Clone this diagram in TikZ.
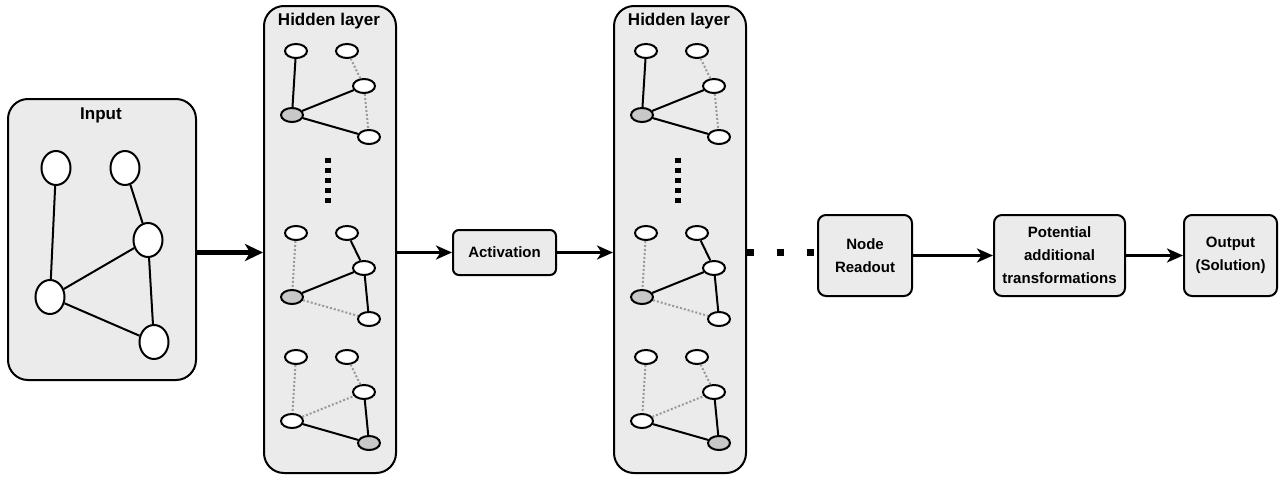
\documentclass[tikz,border=0pt]{standalone}
\usepackage{fontspec}
\setmainfont{Liberation Sans}
\usetikzlibrary{shapes.geometric,arrows.meta,calc}

\definecolor{boxfill}{HTML}{EBEBEB}
\definecolor{nodegrey}{HTML}{C8C8C8}
\definecolor{weakedge}{HTML}{9A9A9A}

\tikzset{
  panel/.style={draw, line width=2pt, fill=boxfill, rounded corners=20pt, inner sep=0pt},
  stepbox/.style={draw, line width=2pt, fill=boxfill, rounded corners=8pt, inner sep=0pt,
    align=center, font=\fontsize{15}{23}\selectfont\bfseries},
  paneltitle/.style={font=\fontsize{17}{20}\selectfont\bfseries, inner sep=0pt},
  bignode/.style={draw, line width=2pt, fill=white, ellipse, inner sep=0pt,
    minimum width=29pt, minimum height=34pt},
  minnode/.style={draw, line width=2pt, fill=white, ellipse, inner sep=0pt,
    minimum width=22pt, minimum height=14pt},
  strong/.style={line width=2pt, black},
  weak/.style={line width=2pt, weakedge, dash pattern=on 2pt off 2pt},
  flow/.style={line width=3pt, -{Stealth[length=16pt, width=14pt, inset=4.5pt]}},
  bigflow/.style={line width=4.5pt, -{Stealth[length=18pt, width=17pt, inset=5pt]}},
}

% One small graph of a hidden layer:
% #1 name prefix, #2 origin, #3 fill of d, #4 fill of e,
% #5 a-d, #6 d-c, #7 d-e, #8 b-c, #9 c-e
\newcommand\minigraph[9]{%
  \begin{scope}[shift={#2}, name prefix=#1-]
    \node[minnode] (a) at (4,0) {};
    \node[minnode] (b) at (55,0) {};
    \node[minnode] (c) at (72,35) {};
    \node[minnode, fill=#3] (d) at (0,64) {};
    \node[minnode, fill=#4] (e) at (77,86) {};
    \draw[#5] (a) -- (d);
    \draw[#6] (d) -- (c);
    \draw[#7] (d) -- (e);
    \draw[#8] (b) -- (c);
    \draw[#9] (c) -- (e);
  \end{scope}%
}

\begin{document}
\begin{tikzpicture}[x=1pt, y=-1pt]
  \useasboundingbox[fill=white] (0,0) rectangle (1283,477);

  % input graph
  \node[panel, minimum width=188pt, minimum height=281pt] (inp) at (102,239.5) {};
  \node[paneltitle] (inptitle) at (101,115) {Input};
  \node[bignode] (i1) at (56,168) {};
  \node[bignode] (i2) at (125,168) {};
  \node[bignode] (i3) at (148,240) {};
  \node[bignode] (i4) at (50,297) {};
  \node[bignode] (i5) at (154,342) {};
  \draw[strong] (i1) -- (i4);
  \draw[strong] (i2) -- (i3);
  \draw[strong] (i3) -- (i4);
  \draw[strong] (i4) -- (i5);
  \draw[strong] (i3) -- (i5);

  % two hidden layers
  \foreach \k/\x in {1/263, 2/613} {
    \node[panel, minimum width=132pt, minimum height=467pt, anchor=north west]
      (hid\k) at (\x,5) {};
    \node[paneltitle] (hidtitle\k) at (\x+66,21) {Hidden layer};
    \minigraph{h\k t}{(\x+29,51)}{nodegrey}{white}{strong}{strong}{strong}{weak}{weak}
    \minigraph{h\k m}{(\x+29,233)}{nodegrey}{white}{weak}{strong}{weak}{strong}{strong}
    \minigraph{h\k b}{(\x+29,357)}{white}{nodegrey}{weak}{weak}{strong}{weak}{strong}
    \draw[line width=5.5pt, dash pattern=on 5pt off 5.2pt] (\x+65,157.5) -- (\x+65,205);
  }

  % processing steps
  \node[stepbox, minimum width=103pt, minimum height=45pt, rounded corners=6pt] (act) at (504.5,252.5) {Activation};
  \node[stepbox, minimum width=94pt, minimum height=81pt] (ro) at (865,255.5) {Node\\Readout};
  \node[stepbox, minimum width=131pt, minimum height=81pt] (pot) at (1059.5,255.5) {Potential\\additional\\transformations};
  \node[stepbox, minimum width=93pt, minimum height=81pt] (out) at (1230.5,255.5) {Output\\(Solution)};

  % connectors
  \draw[bigflow] (inp.east |- act) -- (hid1.west |- act);
  \draw[flow] (act.west -| hid1.east) -- (act.west);
  \draw[flow] (act.east) -- (act.east -| hid2.west);
  \draw[line width=7pt, dash pattern=on 7pt off 23pt] ([xshift=-0.5pt]hid2.east |- act) -- (ro.west |- act);
  \draw[flow] (ro.east) -- (pot.west);
  \draw[flow] (pot.east) -- (out.west);
\end{tikzpicture}
\end{document}
